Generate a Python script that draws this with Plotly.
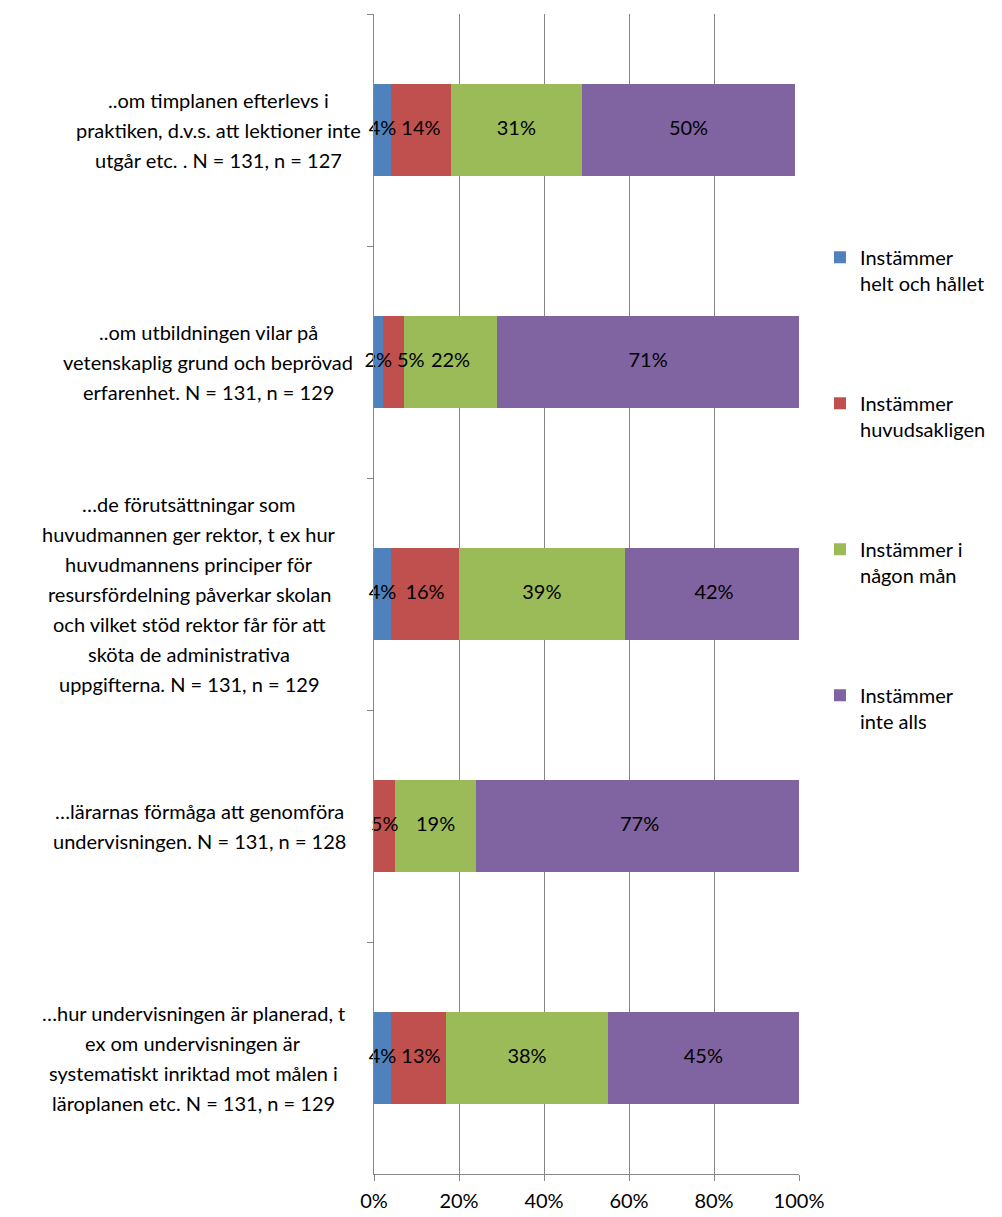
import plotly.graph_objects as go

# Kategorier, uppifrån och ned (en rad per element)
categories = [
    ["..om timplanen efterlevs i", "praktiken, d.v.s. att lektioner inte",
     "utgår etc. . N = 131, n = 127"],
    ["..om utbildningen vilar på", "vetenskaplig grund och beprövad",
     "erfarenhet. N = 131, n = 129"],
    ["…de förutsättningar som", "huvudmannen ger rektor, t ex hur",
     "huvudmannens principer för", "resursfördelning påverkar skolan",
     "och vilket stöd rektor får för att", "sköta de administrativa",
     "uppgifterna. N = 131, n = 129"],
    ["…lärarnas förmåga att genomföra", "undervisningen. N = 131, n = 128"],
    ["…hur undervisningen är planerad, t", "ex om undervisningen är",
     "systematiskt inriktad mot målen i", "läroplanen etc. N = 131, n = 129"],
]
cat_ids = ["c1", "c2", "c3", "c4", "c5"]

series_names = [
    "Instämmer<br>helt och hållet",
    "Instämmer<br>huvudsakligen",
    "Instämmer i<br>någon mån",
    "Instämmer<br>inte alls",
]
helt = [4, 2, 4, 0, 4]
huvudsakligen = [14, 5, 16, 5, 13]
nagon_man = [31, 22, 39, 19, 38]
inte_alls = [50, 71, 42, 77, 45]
series_values = [helt, huvudsakligen, nagon_man, inte_alls]
colors = ["#4F81BD", "#C0504D", "#9BBB59", "#8064A2"]

x_ticks = [0, 20, 40, 60, 80, 100]

# ungefärlig bredd (px) på etikettblocket per kategori, för centrerade rader
label_block_w = [256, 276, 314, 293, 306]

FONT = "Lato"
PLOT_W = 425  # px
fig = go.Figure()

for i, (name, vals) in enumerate(zip(series_names, series_values)):
    fig.add_trace(go.Bar(
        y=cat_ids,
        x=vals,
        orientation="h",
        name=name,
        legendgroup=f"g{i}",
        marker=dict(color=colors[i], line=dict(width=0)),
        hoverinfo="skip",
    ))


def text_w(s):
    # grov uppskattning av textbredd i px vid 20px
    return sum(16 if c == "%" else 11.6 for c in s)


# dataetiketter ovanpå alla staplar, knuffas åt höger om de krockar
lx, ly, lt = [], [], []
px_per_unit = PLOT_W / 100
for j, cid in enumerate(cat_ids):
    start = 0
    prev_right = None
    for vals in series_values:
        v = vals[j]
        if v:
            label = f"{v}%"
            c = (start + v / 2) * px_per_unit
            w = text_w(label)
            if prev_right is not None and c - w / 2 < prev_right + 5:
                c = prev_right + 5 + w / 2
            prev_right = c + w / 2
            lx.append(c / px_per_unit)
            ly.append(cid)
            lt.append(label)
        start += v
fig.add_trace(go.Scatter(
    x=lx, y=ly, text=lt, mode="text",
    textposition="middle center",
    textfont=dict(color="black", size=20, family=FONT),
    showlegend=False, hoverinfo="skip", cliponaxis=False,
))

# kategorietiketter: centrerade rader i ett högerjusterat block
for cid, lines, w in zip(cat_ids, categories, label_block_w):
    n = len(lines)
    for k, line in enumerate(lines):
        fig.add_annotation(
            x=0, xref="paper", y=cid, yref="y",
            text=line, showarrow=False,
            xanchor="center", xshift=-28 - w / 2,
            yshift=((n - 1) / 2 - k) * 30,
            font=dict(size=20, family=FONT, color="black"),
        )

fig.update_layout(
    width=986, height=1209,
    barmode="stack",
    bargap=0.6,
    plot_bgcolor="white",
    paper_bgcolor="white",
    font=dict(family=FONT, size=20, color="black"),
    margin=dict(l=366, r=195, t=6, b=43, autoexpand=False),
    showlegend=True,
    legend=dict(
        x=0.8235, xanchor="left", xref="container",
        y=0.81, yanchor="top", yref="container",
        traceorder="grouped",
        valign="top",
        tracegroupgap=91,
        font=dict(size=20, family=FONT),
        itemwidth=30,
    ),
)
fig.update_xaxes(
    range=[0, 100],
    tickvals=x_ticks,
    ticktext=[f"{t}%" for t in x_ticks],
    showgrid=True, gridcolor="#868686", gridwidth=1,
    showline=True, linecolor="#868686", linewidth=1,
    ticks="outside", ticklen=6, tickcolor="#868686",
    ticklabelstandoff=3,
    zeroline=False,
    tickfont=dict(size=20, family=FONT),
    fixedrange=True,
)
fig.update_yaxes(
    categoryorder="array", categoryarray=cat_ids,
    autorange="reversed",
    showticklabels=False,
    showline=True, linecolor="#868686", linewidth=1,
    ticks="outside", ticklen=6, tickcolor="#868686",
    tickson="boundaries",
    showgrid=False,
    fixedrange=True,
)

fig.write_html("out.html")
